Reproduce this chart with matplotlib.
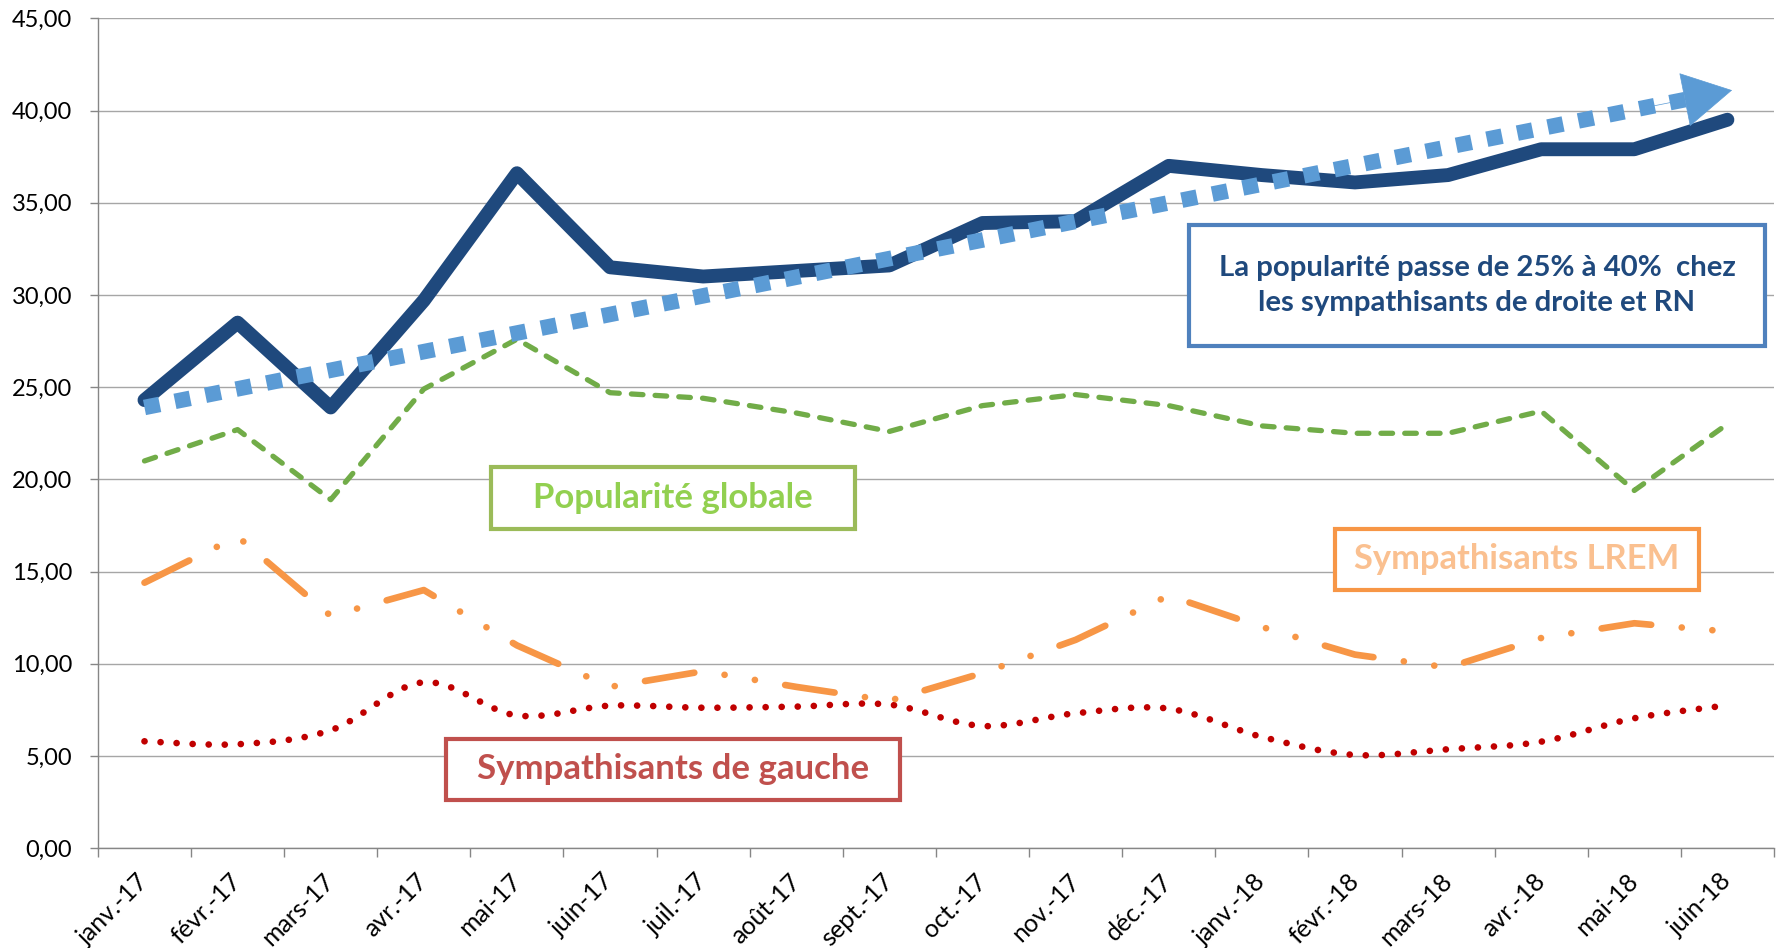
import numpy as np
import matplotlib.pyplot as plt
from matplotlib.path import Path
from matplotlib.patches import PathPatch, Rectangle

plt.rcParams['font.family'] = ['Lato', 'DejaVu Sans']

# Données
mois = ['janv.-17', 'févr.-17', 'mars-17', 'avr.-17', 'mai-17', 'juin-17',
        'juil.-17', 'août-17', 'sept.-17', 'oct.-17', 'nov.-17', 'déc.-17',
        'janv.-18', 'févr.-18', 'mars-18', 'avr.-18', 'mai-18', 'juin-18']

droite_rn = [24.3, 28.5, 23.9, 29.7, 36.6, 31.5, 31.0, 31.3, 31.6, 33.9,
             34.0, 37.0, 36.5, 36.1, 36.5, 37.9, 37.9, 39.5]
globale = [21.0, 22.7, 18.9, 24.9, 27.6, 24.7, 24.4, 23.6, 22.6, 24.0,
           24.6, 24.0, 22.9, 22.5, 22.5, 23.7, 19.4, 23.0]
lrem = [14.4, 16.9, 12.6, 14.0, 11.0, 8.75, 9.6, 8.75, 8.0, 9.5,
        11.3, 13.7, 12.0, 10.5, 9.8, 11.4, 12.2, 11.75]
gauche = [5.8, 5.64, 6.4, 9.0, 7.2, 7.73, 7.62, 7.68, 7.79, 6.63,
          7.32, 7.57, 6.04, 5.06, 5.37, 5.78, 7.05, 7.75]

# flèche de tendance : départ et pointe
tendance_x = [0, 17.05]
tendance_y = [23.9, 41.1]

x = np.arange(len(mois))


def courbe_lissee(xs, ys):
    # lissage type Excel (Catmull-Rom -> Bézier cubique)
    pts = np.column_stack([xs, ys]).astype(float)
    p = np.vstack([pts[0], pts, pts[-1]])
    verts = [pts[0]]
    codes = [Path.MOVETO]
    for i in range(1, len(p) - 2):
        c1 = p[i] + (p[i + 1] - p[i - 1]) / 6
        c2 = p[i + 1] - (p[i + 2] - p[i]) / 6
        verts += [c1, c2, p[i + 1]]
        codes += [Path.CURVE4] * 3
    return Path(verts, codes)


fig = plt.figure(figsize=(17.87, 9.48), dpi=100)
ax = fig.add_axes([0.0548, 0.1052, 0.9379, 0.8755])

# Sympathisants de gauche (pointillés ronds, lissé)
ax.add_patch(PathPatch(courbe_lissee(x, gauche), fill=False, edgecolor='#C00000',
                       lw=4.8, linestyle=(0, (0.01, 2.4)), capstyle='round', zorder=3))

# Sympathisants LREM
ax.plot(x, lrem, color='#F79646', lw=4.8,
        linestyle=(0, (7.5, 4.6, 0.01, 4.6, 0.01, 4.6)),
        dash_capstyle='round', dash_joinstyle='round', zorder=3)

# Popularité globale
ax.plot(x, globale, color='#71AC48', lw=3.8, linestyle=(0, (2.2, 2.3)),
        dash_capstyle='round', dash_joinstyle='round', zorder=3)

# Sympathisants droite et RN
ax.plot(x, droite_rn, color='#1F497D', lw=10, solid_capstyle='round',
        solid_joinstyle='round', zorder=4)

# Flèche de tendance
t0 = np.array([tendance_x[0], tendance_y[0]])
t1 = np.array([tendance_x[1], tendance_y[1]])
base = t0 + 0.972 * (t1 - t0)
avant = t0 + 0.95 * (t1 - t0)
ax.plot([t0[0], base[0]], [t0[1], base[1]], color='#5B9BD5', lw=11.2,
        linestyle=(0, (1, 1)), dash_capstyle='butt', zorder=5)
ax.annotate('', xy=tuple(t1), xytext=tuple(avant),
            arrowprops=dict(arrowstyle='-|>,head_length=34,head_width=19',
                            color='#5B9BD5', lw=0.5, mutation_scale=1,
                            shrinkA=0, shrinkB=0), zorder=5)

# Axes
ax.set_xlim(-0.5, len(mois) - 0.5)
ax.set_ylim(0, 45)
ax.set_yticks(np.arange(0, 50, 5))
ax.set_yticklabels([f'{v:.2f}'.replace('.', ',') for v in np.arange(0, 50, 5)],
                   fontsize=17)
ax.set_xticks(x)
ax.set_xticklabels(mois, fontsize=18, rotation=45, ha='right', va='center',
                   rotation_mode='anchor')
ax.set_xticks(np.arange(-0.5, len(mois), 1), minor=True)
ax.tick_params(axis='x', which='major', length=0, pad=21)
ax.tick_params(axis='x', which='minor', length=6.5, color='#868686', width=1)
ax.tick_params(axis='y', length=5.5, color='#868686', width=1, pad=13)
ax.yaxis.grid(True, color='#A6A6A6', lw=1.0)
ax.set_axisbelow(True)
for s in ['top', 'right']:
    ax.spines[s].set_visible(False)
for s in ['left', 'bottom']:
    ax.spines[s].set_color('#868686')
    ax.spines[s].set_linewidth(1.0)

# Encadrés
encadres = [
    (0.651, 0.605, 0.3436, 0.146, '#4F81BD', '#1F497D', 21.2,
     'La popularité passe de 25% à 40%  chez\nles sympathisants de droite et RN'),
    (0.2345, 0.3847, 0.2172, 0.0747, '#9BBB59', '#92D050', 25,
     'Popularité globale'),
    (0.738, 0.3112, 0.2173, 0.0735, '#F79646', '#FAC090', 24.8,
     'Sympathisants LREM'),
    (0.2076, 0.0582, 0.2709, 0.0735, '#C0504D', '#C0504D', 25,
     'Sympathisants de gauche'),
]
for x0, y0, w, h, bord, coul, taille, texte in encadres:
    ax.add_patch(Rectangle((x0, y0), w, h, transform=ax.transAxes,
                           facecolor='white', edgecolor=bord, lw=3, zorder=6))
    ax.text(x0 + w / 2, y0 + h / 2, texte, transform=ax.transAxes,
            ha='center', va='center', color=coul, fontsize=taille,
            fontweight='bold', linespacing=1.45, zorder=7)

fig.savefig('out.png', dpi=100)
